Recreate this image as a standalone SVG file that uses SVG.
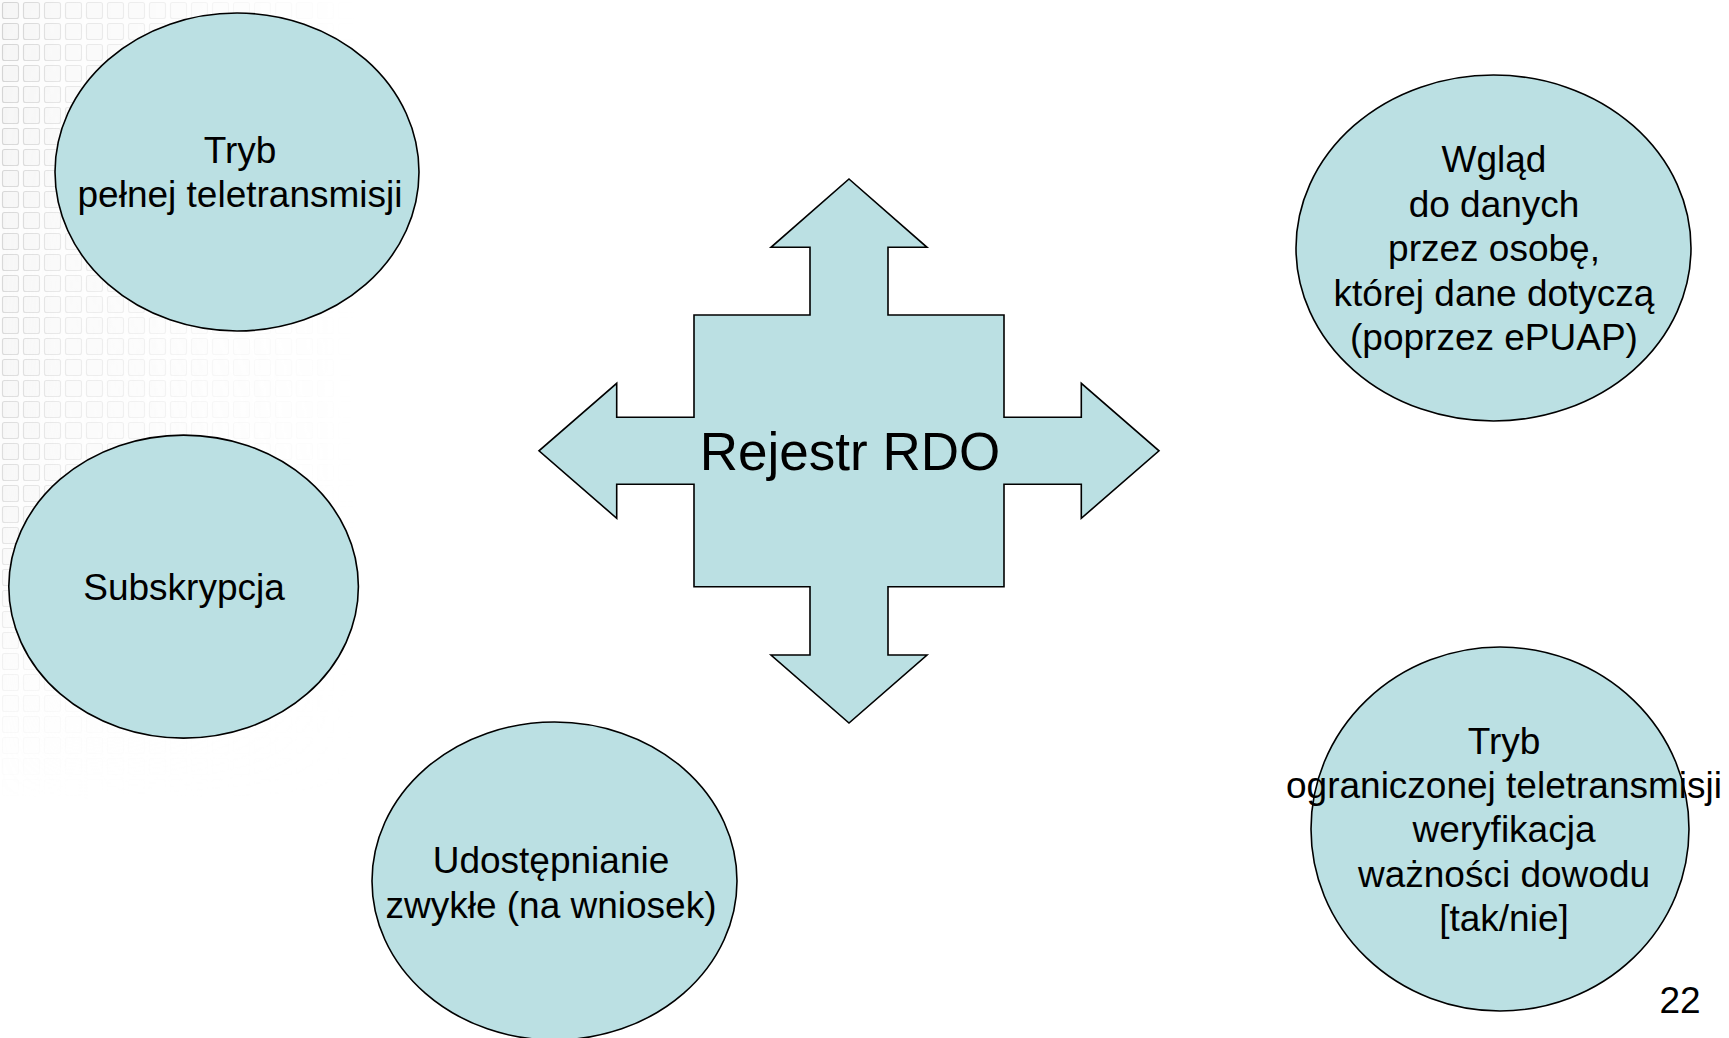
<svg xmlns="http://www.w3.org/2000/svg" width="1729" height="1038" viewBox="0 0 1729 1038">
  <style>
    .shape { fill: #BBE0E3; stroke: #000; stroke-width: 1.6; }
    .lbl { font-family: "Liberation Sans", Arial, sans-serif; font-size: 37px; fill: #000; text-anchor: middle; }
    .big { font-family: "Liberation Sans", Arial, sans-serif; font-size: 53px; fill: #000; text-anchor: middle; }
  </style>
  <defs>
    <pattern id="grid" x="0" y="0" width="21" height="21" patternUnits="userSpaceOnUse">
      <rect x="0" y="0" width="21" height="21" fill="#fbfbfb"/>
      <rect x="2.5" y="2.5" width="16" height="16" rx="2" fill="#f5f5f5" stroke="#d2d2d2" stroke-width="1.1"/>
    </pattern>
    <linearGradient id="gh" x1="0" y1="0" x2="1" y2="0">
      <stop offset="0" stop-color="#fff" stop-opacity="1"/>
      <stop offset="0.18" stop-color="#fff" stop-opacity="0.55"/>
      <stop offset="0.6" stop-color="#fff" stop-opacity="0.22"/>
      <stop offset="1" stop-color="#fff" stop-opacity="0"/>
    </linearGradient>
    <linearGradient id="gv" x1="0" y1="0" x2="0" y2="1">
      <stop offset="0" stop-color="#fff" stop-opacity="1"/>
      <stop offset="0.6" stop-color="#fff" stop-opacity="0.75"/>
      <stop offset="1" stop-color="#fff" stop-opacity="0"/>
    </linearGradient>
    <mask id="mh" maskUnits="userSpaceOnUse" x="0" y="0" width="360" height="800">
      <rect x="0" y="0" width="360" height="800" fill="url(#gh)"/>
    </mask>
    <mask id="mv" maskUnits="userSpaceOnUse" x="0" y="0" width="360" height="800">
      <rect x="0" y="0" width="360" height="800" fill="url(#gv)"/>
    </mask>
  </defs>

  <rect x="0" y="0" width="1729" height="1038" fill="#ffffff"/>
  <g id="background" mask="url(#mv)">
    <rect x="0" y="0" width="360" height="800" fill="url(#grid)" mask="url(#mh)"/>
  </g>

  <g id="node-rejestr">
    <polygon class="shape" points="849,179 927,247.3 888,247.3 888,315 1004,315 1004,417.3 1081.3,417.3 1081.3,383.3 1159,450.8 1081.3,518.3 1081.3,484.3 1004,484.3 1004,586.7 888,586.7 888,655 927,655 849,723 771,655 810,655 810,586.7 694,586.7 694,484.3 616.7,484.3 616.7,518.3 539,450.8 616.7,383.3 616.7,417.3 694,417.3 694,315 810,315 810,247.3 771,247.3"/>
    <text class="big" x="850" y="470">Rejestr RDO</text>
  </g>

  <g id="node-pelna">
    <ellipse class="shape" cx="237" cy="172" rx="182" ry="159"/>
    <text class="lbl" x="240" y="163">Tryb</text>
    <text class="lbl" x="240" y="207">pełnej teletransmisji</text>
  </g>

  <g id="node-subskrypcja">
    <ellipse class="shape" cx="183.6" cy="586.6" rx="174.8" ry="151.5"/>
    <text class="lbl" x="184" y="600">Subskrypcja</text>
  </g>

  <g id="node-udostepnianie">
    <ellipse class="shape" cx="554.5" cy="881" rx="182.5" ry="159"/>
    <text class="lbl" x="551" y="873">Udostępnianie</text>
    <text class="lbl" x="551" y="918">zwykłe (na wniosek)</text>
  </g>

  <g id="node-wglad">
    <ellipse class="shape" cx="1493.5" cy="248" rx="197.5" ry="173"/>
    <text class="lbl" x="1494" y="172">Wgląd</text>
    <text class="lbl" x="1494" y="216.5">do danych</text>
    <text class="lbl" x="1494" y="261">przez osobę,</text>
    <text class="lbl" x="1494" y="305.5">której dane dotyczą</text>
    <text class="lbl" x="1494" y="350">(poprzez ePUAP)</text>
  </g>

  <g id="node-ograniczona">
    <ellipse class="shape" cx="1500" cy="829" rx="189" ry="182"/>
    <text class="lbl" x="1504" y="753.5">Tryb</text>
    <text class="lbl" x="1504" y="798">ograniczonej teletransmisji</text>
    <text class="lbl" x="1504" y="842">weryfikacja</text>
    <text class="lbl" x="1504" y="886.5">ważności dowodu</text>
    <text class="lbl" x="1504" y="931">[tak/nie]</text>
  </g>

  <text id="page-number" class="lbl" x="1680" y="1013">22</text>
</svg>
